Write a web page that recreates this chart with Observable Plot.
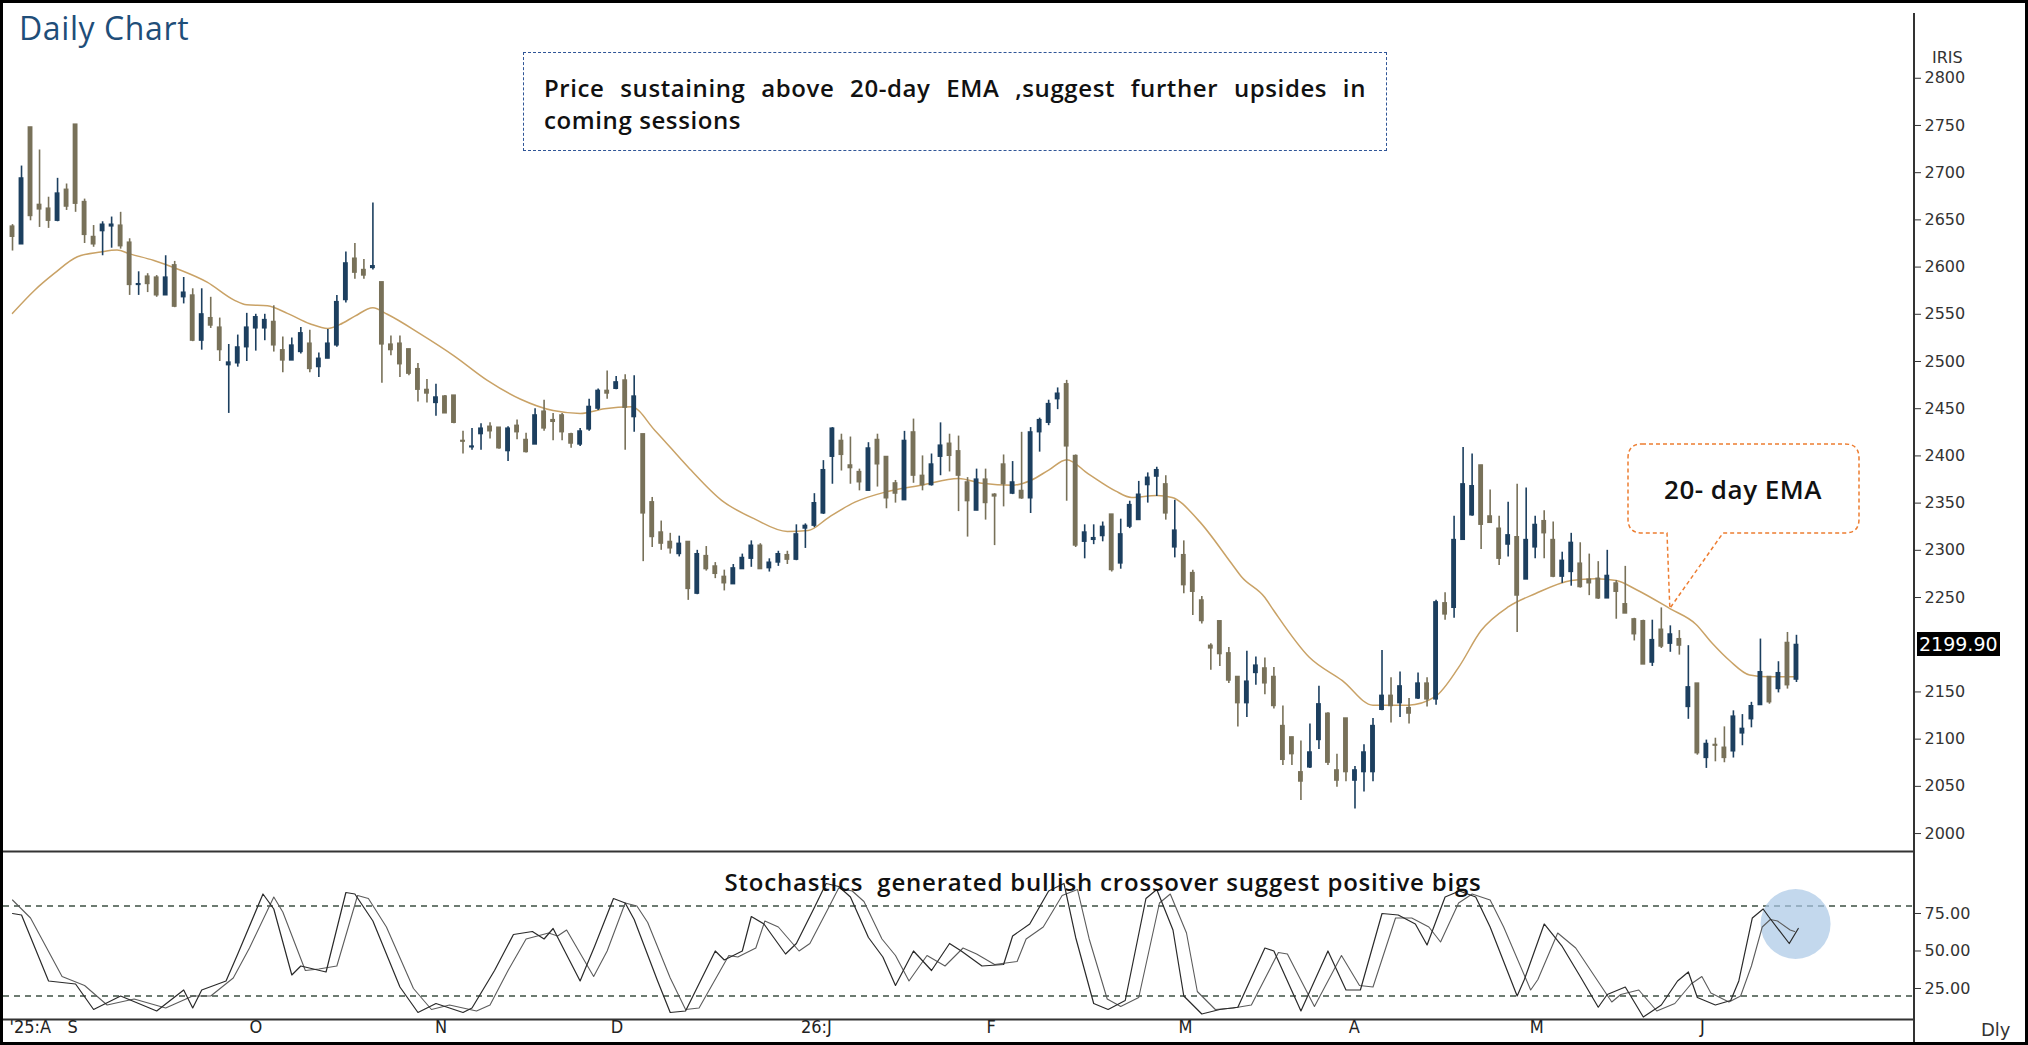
<!DOCTYPE html>
<html><head><meta charset="utf-8">
<script src="https://cdn.jsdelivr.net/npm/d3@7"></script>
<script src="https://cdn.jsdelivr.net/npm/@observablehq/plot@0.6"></script>
<style>
html,body{margin:0;padding:0;background:#fff;}
#wrap{position:relative;width:2028px;height:1045px;overflow:hidden;background:#fff;}
.abs{position:absolute;}
#frame{position:absolute;left:0;top:0;width:2028px;height:1045px;box-sizing:border-box;border:3px solid #000;pointer-events:none;}
#title{left:19px;top:9px;font:500 32px 'Open Sans',sans-serif;letter-spacing:0.6px;color:#1f4e79;line-height:38px;}
#note{left:523px;top:52px;width:864px;height:99px;box-sizing:border-box;border:1.5px dashed #2f5597;padding:19px 20px 0 20px;font:600 24px 'Open Sans',sans-serif;letter-spacing:0.6px;color:#111;line-height:32px;}
#note .l1{text-align:justify;text-align-last:justify;white-space:nowrap;}
#stochNote{top:866px;font:600 24px 'Open Sans',sans-serif;letter-spacing:0.8px;color:#111;line-height:32px;white-space:pre;transform:translateX(-50%);}
.axisTxt{font:16px 'DejaVu Sans',Verdana,sans-serif;color:#333;}
#lastPx{left:1917px;background:#000;color:#fff;font:19px 'DejaVu Sans',Verdana,sans-serif;padding:1px 2px;line-height:22px;}
#axisLine{left:1913px;top:13px;width:2px;height:1032px;background:#333;}
</style></head>
<body><div id="wrap"></div>
<script>
// ---------------- DATA ----------------
const open = [2643,2624,2748,2666,2662,2649,2682,2751,2669,2632, 2638,2643,2644,2626,2581,2590,2589,2570,2602,2568,
 2570,2522,2546,2536,2496,2498,2515,2535,2535,2542, 2512,2501,2510,2519,2494,2503,2517,2565,2609,2597,
 2599,2584,2518,2519,2513,2492,2470,2456,2463,2464, 2416,2409,2423,2431,2430,2405,2432,2417,2412,2447,
 2438,2443,2423,2412,2428,2450,2469,2471,2480,2441, 2423,2351,2319,2309,2296,2309,2254,2294,2283,2272,
 2264,2280,2291,2305,2281,2287,2295,2290,2323,2326, 2339,2399,2416,2390,2383,2363,2417,2399,2371,2353,
 2425,2379,2369,2399,2413,2405,2372,2342,2375,2359, 2391,2360,2363,2355,2425,2435,2460,2476,2400,2309,
 2311,2315,2338,2286,2325,2332,2369,2378,2370,2303, 2295,2276,2247,2199,2225,2191,2166,2138,2170,2175,
 2166,2114,2102,2065,2070,2099,2127,2067,2122,2056, 2065,2065,2131,2146,2138,2133,2143,2159,2142,2244,
 2239,2311,2337,2390,2336,2323,2306,2314,2269,2303, 2331,2311,2272,2277,2286,2269,2270,2249,2265,2243,
 2227,2225,2181,2216,2201,2206,2134,2159,2080,2094, 2091,2087,2106,2121,2136,2166,2153,2202,2163];
const high = [2645,2707,2748,2724,2674,2694,2688,2751,2672,2644, 2648,2653,2658,2630,2595,2593,2591,2612,2606,2589,
 2577,2577,2568,2546,2518,2528,2551,2550,2550,2559, 2526,2525,2536,2533,2509,2534,2570,2616,2625,2608,
 2668,2584,2527,2527,2513,2498,2481,2476,2464,2464, 2426,2429,2434,2435,2430,2431,2438,2424,2450,2459,
 2445,2445,2424,2429,2460,2471,2490,2484,2486,2485, 2423,2356,2331,2318,2315,2309,2300,2304,2287,2279,
 2285,2296,2310,2307,2291,2299,2299,2327,2328,2360, 2395,2430,2423,2420,2386,2414,2423,2399,2374,2426,
 2439,2400,2402,2435,2423,2421,2377,2386,2386,2360, 2401,2394,2425,2430,2440,2459,2472,2480,2401,2327,
 2327,2330,2338,2333,2352,2373,2382,2388,2379,2353, 2310,2279,2251,2201,2225,2197,2166,2193,2187,2186,
 2176,2135,2102,2098,2116,2156,2128,2084,2122,2071, 2094,2122,2194,2165,2171,2143,2170,2165,2247,2255,
 2336,2409,2402,2390,2364,2336,2351,2370,2366,2336, 2342,2330,2298,2318,2308,2296,2288,2300,2268,2283,
 2228,2226,2226,2239,2220,2215,2199,2159,2099,2101, 2113,2130,2126,2139,2206,2166,2182,2213,2210];
const low = [2617,2624,2649,2642,2641,2648,2660,2658,2625,2621, 2612,2620,2619,2570,2570,2573,2568,2570,2557,2561,
 2521,2512,2535,2500,2445,2494,2500,2511,2522,2510, 2488,2501,2508,2488,2483,2503,2515,2562,2587,2587,
 2597,2477,2506,2483,2485,2457,2456,2442,2445,2434, 2402,2406,2406,2418,2407,2394,2417,2403,2412,2426,
 2416,2416,2408,2410,2426,2448,2460,2470,2406,2425, 2288,2303,2300,2296,2293,2247,2253,2278,2270,2257,
 2264,2280,2282,2280,2277,2283,2285,2289,2302,2324, 2338,2370,2384,2370,2363,2363,2367,2344,2350,2353,
 2371,2363,2368,2379,2383,2341,2314,2342,2332,2305, 2346,2359,2354,2339,2404,2432,2449,2352,2303,2291,
 2306,2309,2277,2280,2323,2332,2350,2357,2332,2292, 2254,2231,2222,2173,2177,2159,2113,2123,2157,2147,
 2132,2072,2072,2035,2069,2089,2072,2049,2055,2026, 2044,2055,2130,2117,2123,2116,2142,2134,2136,2226,
 2228,2311,2336,2301,2329,2284,2293,2213,2269,2291, 2291,2271,2265,2262,2260,2252,2248,2249,2227,2233,
 2204,2179,2177,2196,2192,2189,2121,2083,2069,2076, 2075,2080,2093,2112,2136,2137,2149,2153,2160];
const close = [2632,2694,2654,2661,2649,2678,2664,2667,2634,2624, 2645,2645,2622,2581,2582,2582,2570,2589,2558,2573,
 2522,2550,2538,2512,2499,2515,2536,2547,2544,2517, 2501,2517,2530,2492,2503,2519,2563,2604,2594,2591,
 2601,2518,2512,2497,2487,2470,2466,2462,2445,2435, 2415,2410,2429,2426,2408,2429,2425,2404,2443,2429,
 2436,2425,2413,2426,2452,2469,2466,2478,2451,2463, 2339,2314,2307,2302,2307,2259,2296,2280,2275,2265,
 2281,2292,2305,2280,2287,2296,2290,2317,2326,2350, 2385,2429,2401,2387,2372,2408,2391,2355,2360,2416,
 2379,2369,2391,2411,2400,2379,2352,2375,2350,2357, 2370,2372,2355,2425,2438,2455,2466,2410,2305,2319,
 2313,2325,2279,2317,2348,2359,2377,2385,2339,2321, 2263,2256,2225,2196,2190,2162,2138,2161,2178,2159,
 2135,2078,2084,2055,2086,2137,2075,2056,2065,2067, 2086,2114,2146,2135,2156,2127,2159,2142,2245,2232,
 2311,2370,2368,2327,2329,2291,2316,2252,2311,2327, 2318,2272,2289,2308,2261,2265,2249,2273,2256,2233,
 2211,2179,2205,2198,2211,2199,2155,2085,2095,2093, 2080,2124,2111,2135,2171,2139,2170,2157,2199.9];

// 20-day EMA (candle index, value)
const emaIdx = [1,3.4,5.6,8.2,10.8,12.6,14,16.7,19.3,22.6,25.6,27,29.3,31.5,34,36,37.3,39,41,42.6,46.3,50,53.7,57.4,61,64,66.7,69.7,72.3,76,79.7,83.4,87,89.3,91.6,94.5,98,101.9,106,108.6,112,114,116,118,120.4,123.4,125.2,128,129.7,132.6,136.3,137.4,140,141,144.9,148.6,152,155.9,158.9,161.5,164,167,170,174,176.7,179,181.3,185,187.8,189.7,191.6,193.8,196,199];
const emaVal = [2551,2575,2593,2611,2616,2618,2614,2607,2598,2584,2565,2560,2559,2551,2540,2535,2539,2548,2557,2550,2529,2506,2480,2460,2448,2445,2450,2452,2427,2388,2353,2333,2320,2321,2335,2351,2362,2369,2376,2371,2369,2374,2385,2396,2381,2363,2356,2358,2356,2332,2286,2272,2250,2236,2187,2162,2136,2136,2145,2176,2215,2240,2254,2268,2270,2268,2258,2238,2222,2201,2183,2168,2166,2166];

// Stochastics %K and %D
const kIdx = [1,2,5,8,10,13,17,20,21,22,24.7,26,28.8,30,32,33,35.8,38,39,41,44,46,48,51,52,54.5,56.6,58.7,60,61,64,65.6,67.7,69,70,72.6,74,75.7,79,80,82,83,84.4,86.8,88,90,91.3,92.7,94,96,97.6,99,101,103,105,106.3,108.6,111,112,113.9,116,117.7,119,121,122.6,124.5,126.8,128,129.8,131,133,135,137,140,141,144,147,149,150.6,153,154.8,156.7,158,160,161.6,163.4,165,168,168.8,171,173,175,177,178,180,182,184,185.8,187,188,190,191.7,192.6,194.1,195.3,195.9,198.2,199.2];
const kVal = [75,74,30,28,11,20,10,24,12,24,30,48,88,78,34,40,36,89,88,70,26,9,15,9,12,37,61,63,58,65,30,53,85,82,71,30,9,10,50,44,50,73,68,48,55,79,95,93,86,59,46,27,50,37,55,50,40,41,60,68,90,95,59,15,11,17,85,91,64,20,8,11,12.5,52,50,10,50,24,24,75,74,68,54,86,90,86,66,20,31,68,53,33,12.5,21,26,6,14,30,36,19,14,17,30,72,78,73,55,65];
const dIdx = [1,3,6.5,9,11.5,14.5,18,21,23,25.5,27.3,30,31,33.5,35,37,39.3,40.5,42.5,45.5,47.5,49.5,52.5,54,56,58,60.5,61.5,62.5,65.5,67,69,70.3,71.5,74,75.7,77.2,80.5,81.5,83.5,84.5,86,88.3,89.5,91.5,92.7,94.2,95.5,97.5,99,100.5,102.5,104.5,106.5,108,110,112.5,113.5,115.4,117.5,119.2,120.5,122.5,124,126,128.3,129.5,131.3,132.5,134.5,136.5,138.5,141.5,142.5,145.5,148.5,150.5,152,154.5,156.3,158.2,159.5,161.5,163,165,166.5,169.5,170.3,172.5,174.5,176.5,178.5,179.5,181.5,183.5,185.5,187.3,188.5,189.5,191.5,192.8,194,195.2,196.1,196.9,198.3,198.8];
const dVal = [84,72,33,27,14,18,12,20,20,32,52,86,76,37,38,40,87,85,66,25,11,14,10,14,37,58,62,60,64,33,50,82,80,69,32,11,12,47,46,52,70,66,50,55,78,92,90,83,58,47,30,47,40,52,48,41,43,58,66,87,91,58,18,13,19,82,88,62,23,11,12,14,49,48,13,47,27,26,72,72,66,56,82,88,84,66,24,31,62,52,34,16,21,24,10,15,28,33,22,16,20,40,66,71,70,64,63];

// price tick labels (2200 is hidden behind the last-price tag in the reference)
const priceTicks = [2000,2050,2100,2150,2250,2300,2350,2400,2450,2500,2550,2600,2650,2700,2750,2800];
const stochTicks = [25,50,75];
const stochBands = [80,20];
const monthLabels = ["'25:A","S","O","N","D","26:J","F","M","A","M","J"];
const monthIdx = [0.67,7.1,27.3,47.9,67.4,88.5,109.1,130.4,149.3,169.4,188.3];
const highlight = {i:198.9, v:68};
const emaCallout = {i:185, v:2238};

// ---------------- BUILD ----------------
const upColor = "#1c3f5f", dnColor = "#787159";
const candles = open.map((o,k)=>({i:k+1, o, h:high[k], l:low[k], c:close[k]}));
const up = candles.filter(d=>d.c>=d.o), dn = candles.filter(d=>d.c<d.o);
const ema = emaIdx.map((i,k)=>({i, v:emaVal[k]}));
const kPts = kIdx.map((i,k)=>({i, v:kVal[k]}));
const dPts = dIdx.map((i,k)=>({i, v:dVal[k]}));
const months = monthIdx.map((i,k)=>({i, label:monthLabels[k]}));

const W = 2028;
const xDomain = [0, 212.1];
const priceDomain = [1981, 2858];
const stochDomain = [4.33, 116.33];
const common = {width:W, marginLeft:3, marginRight:114, x:{domain:xDomain, axis:null}};
const fontStyle = {background:"transparent", fontFamily:"'DejaVu Sans', Verdana, sans-serif", fontSize:"16px", color:"#333", overflow:"visible"};

const bodyOpts = (col)=>({x1:d=>d.i-0.27, x2:d=>d.i+0.27, y1:"o", y2:"c", fill:col, insetTop:-0.6, insetBottom:-0.6});

const price = Plot.plot({
  ...common, height:853, marginTop:23, marginBottom:2,
  y:{domain:priceDomain, axis:null},
  style:fontStyle,
  marks:[
    Plot.ruleY([priceDomain[0]], {stroke:"#333", strokeWidth:2}),
    Plot.line(ema, {x:"i", y:"v", stroke:"#c9a266", strokeWidth:1.5, curve:"monotone-x"}),
    Plot.ruleX(up, {x:"i", y1:"l", y2:"h", stroke:upColor, strokeWidth:1.6}),
    Plot.ruleX(dn, {x:"i", y1:"l", y2:"h", stroke:dnColor, strokeWidth:1.6}),
    Plot.rect(up, bodyOpts(upColor)),
    Plot.rect(dn, bodyOpts(dnColor)),
    Plot.axisY(priceTicks, {anchor:"right", label:null, tickSize:6, tickPadding:4, tickFormat:d3.format("d"), fontSize:16, stroke:"#333"})
  ]
});

const stoch = Plot.plot({
  ...common, height:194, marginTop:0, marginBottom:26,
  y:{domain:stochDomain, axis:null},
  style:fontStyle,
  marks:[
    Plot.ruleY(stochBands, {stroke:"#3e5043", strokeWidth:1.6, strokeDasharray:"6,5"}),
    Plot.dot([highlight], {x:"i", y:"v", r:35, fill:"#a9c7e6", fillOpacity:0.7, stroke:"none"}),
    Plot.line(dPts, {x:"i", y:"v", stroke:"#5c5c5c", strokeWidth:1.1}),
    Plot.line(kPts, {x:"i", y:"v", stroke:"#2a2a2a", strokeWidth:1.2}),
    Plot.ruleY([stochDomain[0]], {stroke:"#333", strokeWidth:2}),
    Plot.axisY(stochTicks, {anchor:"right", label:null, tickSize:6, tickPadding:4, tickFormat:d3.format(".2f"), fontSize:16, stroke:"#333"}),
    Plot.text(months, {x:"i", text:"label", frameAnchor:"bottom", dy:13, textAnchor:"start", fontSize:18, fill:"#222",
      fontFamily:"'DejaVu Sans Condensed', 'DejaVu Sans', sans-serif"})
  ]
});

const wrap = document.getElementById("wrap");
price.style.position = "absolute"; price.style.left = "0px"; price.style.top = "0px";
stoch.style.position = "absolute"; stoch.style.left = "0px"; stoch.style.top = "851px";
wrap.appendChild(price);
wrap.appendChild(stoch);

function addDiv(id, cls, html, css){
  const d = document.createElement("div");
  if (id) d.id = id;
  d.className = "abs " + (cls||"");
  d.innerHTML = html;
  Object.assign(d.style, css||{});
  wrap.appendChild(d);
  return d;
}
addDiv("axisLine","","");
addDiv("title","","Daily Chart");
addDiv("note","",'<div class="l1">Price sustaining above 20-day EMA ,suggest further upsides in</div><div>coming sessions</div>');
addDiv("stochNote","","Stochastics  generated bullish crossover suggest positive bigs", {left:"1103px"});
addDiv(null,"axisTxt","IRIS",{left:"1932px", top:"48px"});
addDiv(null,"axisTxt","Dly",{left:"1981px", top:"1019px", fontSize:"18px"});

const ys = price.scale("y"), xs = price.scale("x");
const lastClose = close[close.length-1];
addDiv("lastPx","",lastClose.toFixed(2),{top:(ys.apply(lastClose)-12)+"px"});

// EMA callout
const svg = d3.select(wrap).append("svg")
  .attr("width",W).attr("height",1045)
  .style("position","absolute").style("left","0px").style("top","0px").style("pointer-events","none");
const tx = xs.apply(emaCallout.i), ty = ys.apply(emaCallout.v);
const x0=1628,y0=444,x1=1859,y1=533,r=14,p1=1667,p2=1723;
const path = `M${x0+r},${y0} H${x1-r} Q${x1},${y0} ${x1},${y0+r} V${y1-r} Q${x1},${y1} ${x1-r},${y1} H${p2} L${tx},${ty} L${p1},${y1} H${x0+r} Q${x0},${y1} ${x0},${y1-r} V${y0+r} Q${x0},${y0} ${x0+r},${y0} Z`;
svg.append("path").attr("d",path).attr("fill","#fff").attr("stroke","#ed7d31").attr("stroke-width",1.5).attr("stroke-dasharray","4,3");
svg.append("text").attr("x",1743).attr("y",492).attr("text-anchor","middle").attr("dominant-baseline","middle")
  .style("font","600 26px 'Open Sans', sans-serif").style("letter-spacing","0.5px").attr("fill","#111").text("20- day EMA");

addDiv("frame","","");
</script>
</body></html>
